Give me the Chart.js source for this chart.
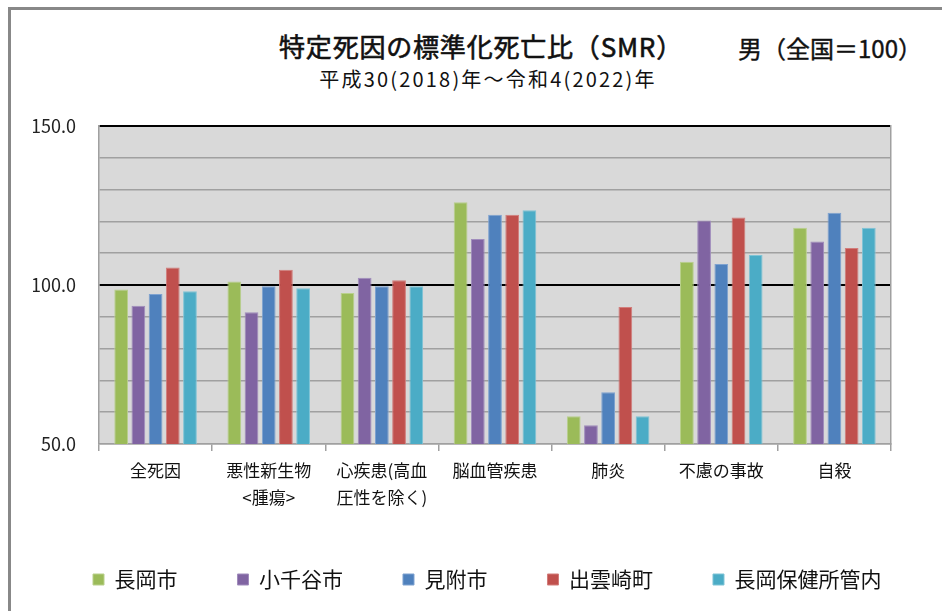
<!DOCTYPE html>
<html lang="ja">
<head>
<meta charset="utf-8">
<script src="https://cdn.jsdelivr.net/npm/chart.js@4"></script>
<style>
  html, body { margin: 0; padding: 0; background: #fff; }
  #wrap { position: relative; width: 942px; height: 611px; overflow: hidden; }
  #frame { position: absolute; left: 8px; top: 7px; right: -10px; bottom: -10px;
           border-left: 3px solid #888; border-top: 3px solid #888; }
  .ttl { position: absolute; white-space: nowrap; font-family: "Noto Sans CJK JP", sans-serif; color: #111; line-height: 1; }
  #title { left: 481px; top: 33px; font-size: 26px; letter-spacing: 0.8px; -webkit-text-stroke: 0.6px #111; transform: translateX(-50%); }
  #unit { left: 738px; top: 36px; font-size: 24px; letter-spacing: 0; -webkit-text-stroke: 0.4px #111; }
  #sub { left: 488px; top: 69px; font-size: 20px; letter-spacing: 2.2px; transform: translateX(-50%); }
  canvas { position: absolute; left: 0; top: 0; }
</style>
</head>
<body>
<div id="wrap">
  <div id="frame"></div>
  <div class="ttl" id="title">特定死因の標準化死亡比（SMR）</div>
  <div class="ttl" id="unit">男（全国＝100）</div>
  <div class="ttl" id="sub">平成30(2018)年～令和4(2022)年</div>
  <canvas id="chart" width="942" height="611"></canvas>
</div>
<script>
// データ
const categories = ['全死因', ['悪性新生物', '<腫瘍>'], ['心疾患(高血', '圧性を除く)'], '脳血管疾患', '肺炎', '不慮の事故', '自殺'];
const seriesNames = ['長岡市', '小千谷市', '見附市', '出雲崎町', '長岡保健所管内'];
const nagaoka = [98.6, 101.1, 97.5, 126.0, 58.7, 107.3, 118.0];
const ojiya = [93.5, 91.4, 102.3, 114.5, 55.9, 120.3, 113.7];
const mitsuke = [97.2, 99.6, 99.6, 122.1, 66.3, 106.6, 122.7];
const izumozaki = [105.5, 104.8, 101.5, 122.1, 93.1, 121.2, 111.6];
const hokenjo = [98.0, 99.0, 99.6, 123.5, 58.7, 109.4, 118.0];
const yTickLabels = [50, 100, 150];

const colors = ['#9bbb59', '#8064a2', '#4f81bd', '#c0504d', '#4bacc6'];
const edges = ['#b9d08c', '#a08cbc', '#7ea2d0', '#d27d7b', '#7fc4d6'];
const FONT = '"Noto Sans CJK JP", sans-serif';

// プロット背景
const plotBg = {
    id: 'plotBg',
    beforeDraw: (chart) => {
        const { ctx, chartArea: a } = chart;
        ctx.save();
        ctx.fillStyle = '#d9d9d9';
        ctx.fillRect(a.left, a.top, a.right - a.left, a.bottom - a.top);
        ctx.restore();
    }
};

new Chart(document.getElementById('chart'), {
    type: 'bar',
    data: {
        labels: categories,
        datasets: [nagaoka, ojiya, mitsuke, izumozaki, hokenjo].map((d, i) => ({
            label: seriesNames[i],
            data: d,
            backgroundColor: colors[i],
            borderColor: edges[i],
            borderWidth: 1,
            categoryPercentage: 0.76,
            barPercentage: 0.8
        }))
    },
    options: {
        responsive: false,
        animation: false,
        layout: { padding: { left: 33, right: 0, top: 126, bottom: 11 } },
        plugins: {
            tooltip: { enabled: false },
            legend: {
                position: 'bottom',
                align: 'start',
                labels: {
                    boxWidth: 11, boxHeight: 11, padding: 60,
                    color: '#111', font: { family: FONT, size: 21 }
                }
            }
        },
        scales: {
            x: {
                grid: { offset: true, drawOnChartArea: false, drawTicks: true, tickLength: 7, color: '#a0a0a0', lineWidth: 1.5 },
                border: { display: true, color: '#a0a0a0', width: 1.5 },
                ticks: { color: '#111', font: { family: FONT, size: 17, lineHeight: 1.6 }, padding: 6, maxRotation: 0, autoSkip: false },
                afterFit: (s) => { s.height = 65; }
            },
            y: {
                min: 50, max: 150,
                grid: {
                    drawTicks: false,
                    color: (c) => (c.tick && (c.tick.value === 100 || c.tick.value === 150)) ? '#000' : '#a0a0a0',
                    lineWidth: (c) => (c.tick && (c.tick.value === 100 || c.tick.value === 150)) ? 2 : 1.5
                },
                border: { display: true, color: '#a0a0a0', width: 1.5 },
                ticks: {
                    stepSize: 5, padding: 23, color: '#222',
                    font: { family: FONT, size: 18 },
                    callback: (v) => yTickLabels.includes(v) ? v.toFixed(1) : ''
                },
                afterFit: (s) => { s.width = 66; }
            },
            yRight: {
                position: 'right',
                display: true,
                grid: { drawOnChartArea: false, drawTicks: false },
                border: { display: true, color: '#a0a0a0', width: 1.5 },
                ticks: { display: false },
                afterFit: (s) => { s.width = 51; }
            }
        }
    },
    plugins: [plotBg]
});
</script>
</body>
</html>
